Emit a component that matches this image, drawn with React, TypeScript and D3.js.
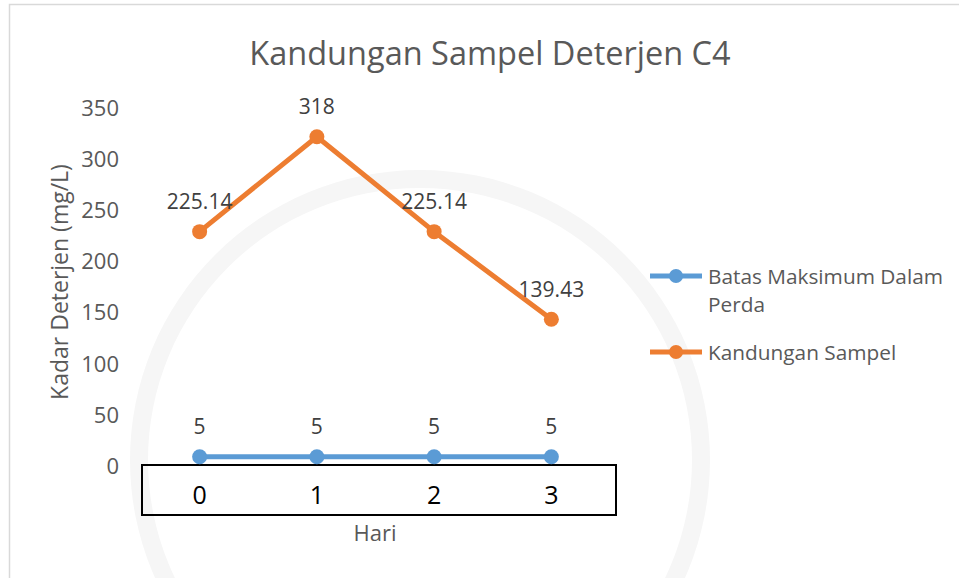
import React from "react";
import * as d3 from "d3";

const categories = ["0", "1", "2", "3"];
const batasValues = [5, 5, 5, 5];
const sampelValues = [225.14, 318, 225.14, 139.43];
const sampelLabels = ["225.14", "318", "225.14", "139.43"];
const batasLabels = ["5", "5", "5", "5"];
const yTicks = [0, 50, 100, 150, 200, 250, 300, 350];
const title = "Kandungan Sampel Deterjen C4";
const yTitle = "Kadar Deterjen (mg/L)";
const xTitle = "Hari";
const legendNames = ["Batas Maksimum Dalam", "Perda", "Kandungan Sampel"];

const W = 959;
const H = 578;
const FONT = "'Open Sans', 'Noto Sans', sans-serif";
const BLUE = "#5B9BD5";
const ORANGE = "#ED7D31";

export default function App() {
  const x = d3.scalePoint<string>().domain(categories).range([141, 610]).padding(0.5);
  const y = d3.scaleLinear().domain([0, 350]).range([461.8, 104]);
  const line = d3
    .line<number>()
    .x((_, i) => x(categories[i]) as number)
    .y((d) => y(d));

  const arc = d3.arc()({
    innerRadius: 272,
    outerRadius: 290,
    startAngle: -Math.PI * 0.75,
    endAngle: Math.PI * 0.75,
  } as any) as string;

  return (
    <svg
      width={W}
      height={H}
      style={{ position: "absolute", left: 0, top: 0, background: "#fff" }}
      fontFamily={FONT}
    >
      <rect x={0} y={0} width={W} height={H} fill="#fff" />
      {/* faint watermark ring */}
      <path d={arc} transform="translate(420,460)" fill="#f6f6f6" />
      {/* frame */}
      <path d={`M9.5,${H} V4.5 H${W}`} fill="none" stroke="#d9d9d9" strokeWidth={1.5} />
      {/* title */}
      <text x={490} y={65} textAnchor="middle" fontSize={32.5} fill="#595959">
        {title}
      </text>
      {/* y ticks */}
      {yTicks.map((t) => (
        <text key={t} x={119} y={y(t) + 3} textAnchor="end" dominantBaseline="central" fontSize={22} fill="#595959">
          {t}
        </text>
      ))}
      <text transform="translate(68,282) rotate(-90)" textAnchor="middle" fontSize={23} fill="#595959">
        {yTitle}
      </text>
      {/* x axis box and ticks */}
      <rect x={142} y={465} width={474} height={50} fill="none" stroke="#000" strokeWidth={2} />
      {categories.map((c) => (
        <text key={c} x={x(c)} y={504} textAnchor="middle" fontSize={25} fill="#000">
          {c}
        </text>
      ))}
      <text x={375} y={541} textAnchor="middle" fontSize={22} fill="#595959">
        {xTitle}
      </text>
      {/* series */}
      <path d={line(batasValues) as string} fill="none" stroke={BLUE} strokeWidth={5} strokeLinejoin="round" />
      {batasValues.map((v, i) => (
        <circle key={i} cx={x(categories[i])} cy={y(v)} r={7.5} fill={BLUE} />
      ))}
      <path d={line(sampelValues) as string} fill="none" stroke={ORANGE} strokeWidth={5} strokeLinejoin="round" />
      {sampelValues.map((v, i) => (
        <circle key={i} cx={x(categories[i])} cy={y(v)} r={7.5} fill={ORANGE} />
      ))}
      {/* data labels */}
      {batasValues.map((v, i) => (
        <text key={i} x={x(categories[i])} y={y(v) - 22.5} textAnchor="middle" fontSize={21} fill="#404040">
          {batasLabels[i]}
        </text>
      ))}
      {sampelValues.map((v, i) => (
        <text key={i} x={x(categories[i])} y={y(v) - 22.5} textAnchor="middle" fontSize={21} fill="#404040">
          {sampelLabels[i]}
        </text>
      ))}
      {/* legend */}
      <line x1={650} x2={702} y1={276} y2={276} stroke={BLUE} strokeWidth={5} />
      <circle cx={676} cy={276} r={7} fill={BLUE} />
      <text x={708} y={284} fontSize={20.8} fill="#595959">
        {legendNames[0]}
      </text>
      <text x={708} y={312} fontSize={20.8} fill="#595959">
        {legendNames[1]}
      </text>
      <line x1={650} x2={702} y1={352} y2={352} stroke={ORANGE} strokeWidth={5} />
      <circle cx={676} cy={352} r={7} fill={ORANGE} />
      <text x={708} y={360} fontSize={20.8} fill="#595959">
        {legendNames[2]}
      </text>
    </svg>
  );
}
